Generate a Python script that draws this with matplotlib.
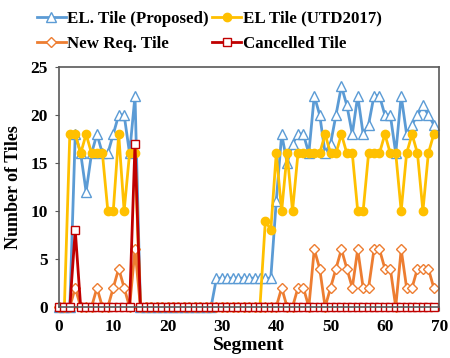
import matplotlib
matplotlib.use("Agg")
import matplotlib.pyplot as plt

# === Data: segment index 0..69
segments = list(range(70))

el_proposed = [0, 0, 0, 18, 16, 12, 16, 18, 16, 16, 18, 20, 20, 16, 22,
               0, 0, 0, 0, 0, 0, 0, 0, 0, 0, 0, 0, 0, 0,
               3, 3, 3, 3, 3, 3, 3, 3, 3, 3, 3,
               11, 18, 15, 17, 18, 18, 16, 22, 20, 16, 17, 20, 23, 21, 18,
               22, 18, 19, 22, 22, 20, 20, 16, 22, 18, 19, 20, 21, 20, 19]

el_utd2017 = [0, 0, 18, 18, 16, 18, 16, 16, 16, 10, 10, 18, 10, 16, 16,
              0, 0, 0, 0, 0, 0, 0, 0, 0, 0, 0, 0, 0, 0, 0, 0, 0, 0, 0, 0, 0, 0, 0,
              9, 8, 16, 10, 16, 10, 16, 16, 16, 16, 16, 18, 16, 16, 18, 16, 16,
              10, 10, 16, 16, 16, 18, 16, 16, 10, 16, 18, 16, 10, 16, 18]

new_req = [0, 0, 0, 2, 0, 0, 0, 2, 0, 0, 2, 4, 2, 0, 6,
           0, 0, 0, 0, 0, 0, 0, 0, 0, 0, 0, 0, 0, 0, 0, 0, 0, 0, 0, 0, 0, 0, 0, 0, 0,
           0, 2, 0, 0, 2, 2, 0, 6, 4, 0, 2, 4, 6, 4, 2,
           6, 2, 2, 6, 6, 4, 4, 0, 6, 2, 2, 4, 4, 4, 2]

cancelled = [0, 0, 0, 8, 0, 0, 0, 0, 0, 0, 0, 0, 0, 0, 17] + [0] * 55

plt.rcParams['font.family'] = ['Liberation Serif', 'DejaVu Serif']
plt.rcParams['font.weight'] = 'bold'

fig = plt.figure(figsize=(4.5, 3.58), dpi=100)
ax = fig.add_axes([0.131, 0.1425, 0.845, 0.6705])

h1, = ax.plot(segments, el_proposed, color='#5B9BD5', lw=2, marker='^', ms=6.5,
              mfc='white', mec='#5B9BD5', mew=1, clip_on=False,
              label='EL. Tile (Proposed)')
h2, = ax.plot(segments, el_utd2017, color='#FFC000', lw=2, marker='o', ms=6,
              mfc='#FFC000', mec='#FFC000', clip_on=False,
              label='EL Tile (UTD2017)')
h3, = ax.plot(segments, new_req, color='#ED7D31', lw=2, marker='D', ms=5,
              mfc='white', mec='#ED7D31', mew=1, clip_on=False,
              label='New Req. Tile')
h4, = ax.plot(segments, cancelled, color='#C00000', lw=2, marker='s', ms=6,
              mfc='white', mec='#C00000', mew=1, clip_on=False,
              label='Cancelled Tile')

ax.set_xlim(0, 70)
ax.set_ylim(0, 25)
ax.set_xticks(range(0, 71, 10))
ax.set_yticks(range(0, 26, 5))
ax.tick_params(labelsize=12.5, length=3, color='#595959')
ax.tick_params(axis='x', pad=6)
ax.tick_params(axis='y', pad=5)
for lbl in ax.get_xticklabels() + ax.get_yticklabels():
    lbl.set_fontweight('bold')
for sp in ax.spines.values():
    sp.set_color('#595959')
    sp.set_linewidth(1.2)

ax.set_xlabel('Segment', fontsize=14, fontweight='bold', labelpad=1)
ax.set_ylabel('Number of Tiles', fontsize=13, fontweight='bold', labelpad=6)

# column-wise fill -> rows: Proposed/UTD2017, NewReq/Cancelled
ax.legend([h1, h3, h2, h4],
          [h1.get_label(), h3.get_label(), h2.get_label(), h4.get_label()],
          loc='lower left', bbox_to_anchor=(-0.085, 1.02), ncol=2, frameon=False,
          prop={'size': 12.2, 'weight': 'bold'}, handlelength=1.7,
          handletextpad=0.1, columnspacing=0.2, labelspacing=0.55,
          borderaxespad=0.2)

fig.savefig('out.png', dpi=100)
